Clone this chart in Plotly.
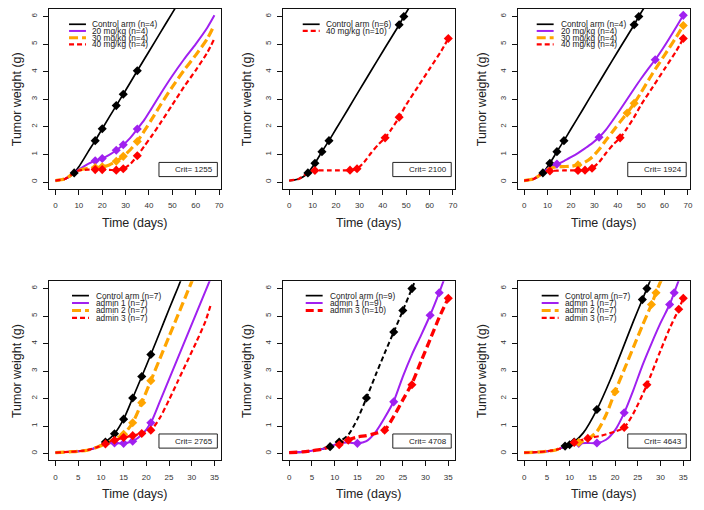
import plotly.graph_objects as go

# ---------------- DATA ----------------
# Panel 1 (top-left)
p1_ctrl_x = [0, 2, 4, 6, 8, 10, 12, 14, 17, 20, 26, 29, 35, 40, 45, 50, 53]
p1_ctrl_y = [0.05, 0.07, 0.11, 0.19, 0.33, 0.55, 0.82, 1.1, 1.5, 1.93, 2.77, 3.18, 4.03, 4.73, 5.43, 6.13, 6.55]
p1_d20_x = [0, 4, 8, 10, 12, 14, 17, 20, 23, 26, 29, 32, 35, 38, 41, 45, 50, 55, 60, 65, 68]
p1_d20_y = [0.05, 0.11, 0.33, 0.45, 0.56, 0.66, 0.77, 0.85, 0.98, 1.15, 1.35, 1.6, 1.92, 2.25, 2.65, 3.2, 3.85, 4.45, 5.0, 5.6, 6.04]
p1_d30_x = [0, 4, 8, 10, 12, 14, 17, 20, 23, 26, 29, 32, 35, 38, 41, 45, 50, 55, 60, 65, 68]
p1_d30_y = [0.05, 0.11, 0.33, 0.42, 0.47, 0.5, 0.52, 0.55, 0.62, 0.75, 0.93, 1.17, 1.47, 1.85, 2.25, 2.8, 3.45, 4.05, 4.6, 5.2, 5.7]
p1_d40_x = [0, 4, 8, 10, 12, 14, 17, 20, 23, 26, 29, 32, 35, 38, 41, 45, 50, 55, 60, 65, 68]
p1_d40_y = [0.05, 0.11, 0.33, 0.42, 0.44, 0.45, 0.45, 0.45, 0.44, 0.43, 0.48, 0.65, 0.95, 1.3, 1.65, 2.15, 2.8, 3.45, 4.05, 4.7, 5.2]
p1_ctrl_obs_x = [8, 17, 20, 26, 29, 35]
p1_ctrl_obs_y = [0.33, 1.5, 1.93, 2.77, 3.18, 4.03]
p1_d20_obs_x = [17, 20, 26, 29, 35]
p1_d20_obs_y = [0.77, 0.85, 1.15, 1.35, 1.92]
p1_d30_obs_x = [17, 20, 26, 29, 35]
p1_d30_obs_y = [0.52, 0.55, 0.75, 0.93, 1.47]
p1_d40_obs_x = [17, 20, 26, 29, 35]
p1_d40_obs_y = [0.45, 0.45, 0.43, 0.48, 0.95]

# Panel 2 (top-middle)
p2_ctrl_x = [0, 2, 4, 6, 8, 11, 14, 17, 20, 25, 30, 35, 40, 47, 49, 52]
p2_ctrl_y = [0.05, 0.07, 0.11, 0.19, 0.33, 0.68, 1.1, 1.5, 1.92, 2.62, 3.33, 4.03, 4.73, 5.7, 6.0, 6.42]
p2_d40_x = [0, 4, 8, 11, 14, 17, 20, 23, 26, 29, 32, 35, 38, 41, 44, 47, 50, 55, 60, 65, 68]
p2_d40_y = [0.05, 0.11, 0.33, 0.42, 0.42, 0.42, 0.42, 0.42, 0.43, 0.48, 0.72, 1.05, 1.35, 1.6, 1.95, 2.35, 2.8, 3.45, 4.1, 4.75, 5.2]
p2_ctrl_obs_x = [8, 11, 14, 17, 47, 49]
p2_ctrl_obs_y = [0.33, 0.68, 1.1, 1.5, 5.7, 6.0]
p2_d40_obs_x = [11, 26, 29, 41, 47, 68]
p2_d40_obs_y = [0.42, 0.43, 0.48, 1.6, 2.35, 5.2]

# Panel 3 (top-right)
p3_ctrl_x = [0, 2, 4, 6, 8, 11, 14, 17, 20, 25, 30, 35, 40, 47, 49, 52]
p3_ctrl_y = [0.05, 0.07, 0.11, 0.19, 0.33, 0.68, 1.1, 1.5, 1.92, 2.62, 3.33, 4.03, 4.73, 5.7, 6.0, 6.42]
p3_d20_x = [0, 4, 8, 11, 14, 17, 20, 23, 26, 29, 32, 35, 38, 41, 44, 47, 50, 53, 56, 59, 62, 65, 68]
p3_d20_y = [0.05, 0.11, 0.33, 0.55, 0.65, 0.76, 0.9, 1.05, 1.22, 1.4, 1.62, 1.9, 2.25, 2.62, 3.0, 3.38, 3.75, 4.1, 4.43, 4.8, 5.2, 5.62, 6.04]
p3_d30_x = [0, 4, 8, 11, 14, 17, 20, 23, 26, 29, 32, 35, 38, 41, 44, 47, 50, 55, 60, 65, 68]
p3_d30_y = [0.05, 0.11, 0.33, 0.5, 0.55, 0.56, 0.57, 0.62, 0.72, 0.9, 1.18, 1.52, 1.85, 2.18, 2.5, 2.85, 3.25, 3.95, 4.6, 5.25, 5.67]
p3_d40_x = [0, 4, 8, 11, 14, 17, 20, 23, 26, 29, 32, 35, 38, 41, 44, 47, 50, 55, 60, 65, 68]
p3_d40_y = [0.05, 0.11, 0.33, 0.4, 0.41, 0.42, 0.42, 0.42, 0.43, 0.5, 0.72, 1.05, 1.35, 1.6, 1.95, 2.35, 2.8, 3.45, 4.1, 4.75, 5.2]
p3_ctrl_obs_x = [8, 11, 14, 17, 47, 49]
p3_ctrl_obs_y = [0.33, 0.68, 1.1, 1.5, 5.7, 6.0]
p3_d20_obs_x = [14, 32, 56, 68]
p3_d20_obs_y = [0.65, 1.62, 4.43, 6.04]
p3_d30_obs_x = [23, 44, 47, 68]
p3_d30_obs_y = [0.62, 2.5, 2.85, 5.67]
p3_d40_obs_x = [11, 23, 26, 29, 41, 68]
p3_d40_obs_y = [0.4, 0.42, 0.43, 0.5, 1.6, 5.2]

# Panel 4 (bottom-left)
p4_ctrl_x = [0, 3, 5, 7, 9, 11, 13, 15, 17, 19, 21, 23, 25, 27, 29]
p4_ctrl_y = [0.03, 0.06, 0.08, 0.12, 0.22, 0.42, 0.72, 1.25, 2.02, 2.8, 3.6, 4.42, 5.25, 6.05, 6.9]
p4_a1_x = [0, 3, 5, 7, 9, 11, 13, 15, 17, 19, 21, 23, 25, 27, 29, 31, 33, 35]
p4_a1_y = [0.03, 0.06, 0.08, 0.12, 0.22, 0.35, 0.38, 0.37, 0.45, 0.68, 1.12, 1.9, 2.7, 3.5, 4.3, 5.1, 5.9, 6.7]
p4_a2_x = [0, 3, 5, 7, 9, 11, 13, 15, 17, 19, 21, 23, 25, 27, 29, 31]
p4_a2_y = [0.03, 0.06, 0.08, 0.12, 0.22, 0.35, 0.52, 0.7, 1.12, 1.85, 2.65, 3.45, 4.25, 5.05, 5.85, 6.65]
p4_a3_x = [0, 3, 5, 7, 9, 11, 13, 15, 17, 19, 21, 23, 25, 27, 29, 31, 33, 34.3]
p4_a3_y = [0.03, 0.06, 0.08, 0.12, 0.22, 0.35, 0.48, 0.58, 0.65, 0.73, 0.85, 1.3, 1.95, 2.65, 3.35, 4.05, 4.8, 5.47]
p4_ctrl_obs_x = [11, 13, 15, 17, 19, 21]
p4_ctrl_obs_y = [0.42, 0.72, 1.25, 2.02, 2.8, 3.6]
p4_a1_obs_x = [13, 15, 17, 21]
p4_a1_obs_y = [0.38, 0.37, 0.45, 1.12]
p4_a2_obs_x = [15, 17, 19, 21]
p4_a2_obs_y = [0.7, 1.12, 1.85, 2.65]
p4_a3_obs_x = [11, 13, 15, 17, 19, 21]
p4_a3_obs_y = [0.35, 0.48, 0.58, 0.65, 0.73, 0.85]

# Panel 5 (bottom-middle)
p5_ctrl_x = [0, 3, 5, 7, 9, 11, 13, 15, 17, 19, 21, 23, 25, 27, 28]
p5_ctrl_y = [0.03, 0.06, 0.1, 0.15, 0.25, 0.42, 0.68, 1.25, 2.02, 2.85, 3.65, 4.42, 5.2, 6.0, 6.4]
p5_a1_x = [0, 3, 5, 7, 9, 11, 13, 15, 17, 19, 21, 23, 25, 27, 29, 31, 33, 34]
p5_a1_y = [0.03, 0.06, 0.1, 0.15, 0.25, 0.38, 0.4, 0.37, 0.45, 0.78, 1.3, 1.9, 2.8, 3.6, 4.3, 5.03, 5.85, 6.3]
p5_a3_x = [0, 3, 5, 7, 9, 11, 13, 15, 17, 19, 21, 23, 25, 27, 29, 31, 33, 35]
p5_a3_y = [0.03, 0.06, 0.1, 0.15, 0.25, 0.35, 0.5, 0.6, 0.65, 0.73, 0.85, 1.35, 1.95, 2.55, 3.35, 4.15, 4.95, 5.65]
p5_ctrl_obs_x = [9, 11, 17, 23, 25, 27]
p5_ctrl_obs_y = [0.25, 0.42, 2.02, 4.42, 5.2, 6.0]
p5_a1_obs_x = [15, 23, 31, 33]
p5_a1_obs_y = [0.37, 1.88, 5.03, 5.85]
p5_a3_obs_x = [11, 13, 21, 27, 35]
p5_a3_obs_y = [0.32, 0.48, 0.85, 2.5, 5.65]

# Panel 6 (bottom-right)
p6_ctrl_x = [0, 3, 5, 7, 9, 10, 11, 13, 16, 19, 22, 24, 26, 27, 28]
p6_ctrl_y = [0.03, 0.05, 0.08, 0.13, 0.25, 0.32, 0.42, 0.75, 1.6, 2.7, 3.95, 4.8, 5.6, 6.0, 6.4]
p6_a1_x = [0, 3, 5, 7, 9, 12, 14, 16, 18, 20, 22, 24, 26, 28, 30, 32, 33, 34]
p6_a1_y = [0.03, 0.05, 0.08, 0.13, 0.25, 0.37, 0.38, 0.38, 0.5, 0.85, 1.48, 2.3, 3.2, 4.0, 4.75, 5.42, 5.85, 6.3]
p6_a2_x = [0, 3, 5, 7, 9, 12, 14, 16, 18, 20, 22, 24, 26, 28, 29, 30, 31]
p6_a2_y = [0.03, 0.05, 0.08, 0.13, 0.25, 0.4, 0.52, 0.8, 1.4, 2.25, 3.05, 3.85, 4.65, 5.42, 5.85, 6.25, 6.6]
p6_a3_x = [0, 3, 5, 7, 9, 11, 14, 17, 20, 22, 24, 27, 30, 32, 34, 35]
p6_a3_y = [0.03, 0.05, 0.08, 0.13, 0.25, 0.4, 0.55, 0.65, 0.8, 0.95, 1.45, 2.5, 3.75, 4.55, 5.25, 5.65]
p6_ctrl_obs_x = [9, 10, 11, 16, 26, 27]
p6_ctrl_obs_y = [0.27, 0.32, 0.42, 1.6, 5.6, 6.0]
p6_a1_obs_x = [12, 16, 22, 32, 33]
p6_a1_obs_y = [0.37, 0.38, 1.48, 5.42, 5.85]
p6_a2_obs_x = [12, 20, 28, 29]
p6_a2_obs_y = [0.4, 2.25, 5.42, 5.85]
p6_a3_obs_x = [11, 14, 22, 27, 34, 35]
p6_a3_obs_y = [0.4, 0.55, 0.95, 2.5, 5.25, 5.65]

# Legend labels and criteria
legend_p1 = ["Control arm (n=4)", "20 mg/kg (n=4)", "30 mg/kg (n=4)", "40 mg/kg (n=4)"]
legend_p2 = ["Control arm (n=6)", "40 mg/kg (n=10)"]
legend_p3 = ["Control arm (n=4)", "20 mg/kg (n=4)", "30 mg/kg (n=4)", "40 mg/kg (n=4)"]
legend_p4 = ["Control arm (n=7)", "admin 1 (n=7)", "admin 2 (n=7)", "admin 3 (n=7)"]
legend_p5 = ["Control arm (n=9)", "admin 1 (n=9)", "admin 3 (n=10)"]
legend_p6 = ["Control arm (n=7)", "admin 1 (n=7)", "admin 2 (n=7)", "admin 3 (n=7)"]
crit_values = [1255, 2100, 1924, 2765, 4708, 4643]

x_ticks_top = [0, 10, 20, 30, 40, 50, 60, 70]
x_ticks_bottom = [0, 5, 10, 15, 20, 25, 30, 35]
y_ticks = [0, 1, 2, 3, 4, 5, 6]

# ---------------- STYLES ----------------
FONT = "Liberation Sans, Arial, sans-serif"
BLACK = "#000000"
PURPLE = "#A020F0"
ORANGE = "#FFA500"
RED = "#FF0000"

STY = {
    "ctrl": dict(color=BLACK, width=1.7, dash="solid"),
    "ctrl_d": dict(color=BLACK, width=2, dash="5px,3px"),
    "pur": dict(color=PURPLE, width=2, dash="solid"),
    "ora": dict(color=ORANGE, width=3.2, dash="9px,4px"),
    "red": dict(color=RED, width=2.2, dash="5px,3px"),
    "red_t": dict(color=RED, width=3.3, dash="8px,4px"),
}

# The page body adds an 8px offset; the figure is sized so that the
# whole page equals the 704x510 window.
OFF = 8
W, H = 704 - OFF, 510 - OFF
# panel boxes in window pixels
col_px = [(49.3, 221.7), (284.0, 456.6), (520.0, 692.6)]
row_px = [(8.0, 188.0), (280.7, 460.0)]


def px_x(p):
    return (p - OFF) / W


def px_y(p):
    return 1 - (p - OFF) / H


panels = [
    dict(row=0, col=0, legend=legend_p1, crit=crit_values[0], xt=x_ticks_top, xr=[-2.72, 70.72],
         series=[(p1_ctrl_x, p1_ctrl_y, p1_ctrl_obs_x, p1_ctrl_obs_y, "ctrl"),
                 (p1_d20_x, p1_d20_y, p1_d20_obs_x, p1_d20_obs_y, "pur"),
                 (p1_d30_x, p1_d30_y, p1_d30_obs_x, p1_d30_obs_y, "ora"),
                 (p1_d40_x, p1_d40_y, p1_d40_obs_x, p1_d40_obs_y, "red")],
         leg_styles=["ctrl", "pur", "ora", "red"]),
    dict(row=0, col=1, legend=legend_p2, crit=crit_values[1], xt=x_ticks_top, xr=[-2.72, 70.72],
         series=[(p2_ctrl_x, p2_ctrl_y, p2_ctrl_obs_x, p2_ctrl_obs_y, "ctrl"),
                 (p2_d40_x, p2_d40_y, p2_d40_obs_x, p2_d40_obs_y, "red")],
         leg_styles=["ctrl", "red"]),
    dict(row=0, col=2, legend=legend_p3, crit=crit_values[2], xt=x_ticks_top, xr=[-2.72, 70.72],
         series=[(p3_ctrl_x, p3_ctrl_y, p3_ctrl_obs_x, p3_ctrl_obs_y, "ctrl"),
                 (p3_d20_x, p3_d20_y, p3_d20_obs_x, p3_d20_obs_y, "pur"),
                 (p3_d30_x, p3_d30_y, p3_d30_obs_x, p3_d30_obs_y, "ora"),
                 (p3_d40_x, p3_d40_y, p3_d40_obs_x, p3_d40_obs_y, "red")],
         leg_styles=["ctrl", "pur", "ora", "red"]),
    dict(row=1, col=0, legend=legend_p4, crit=crit_values[3], xt=x_ticks_bottom, xr=[-1.4, 36.4],
         series=[(p4_ctrl_x, p4_ctrl_y, p4_ctrl_obs_x, p4_ctrl_obs_y, "ctrl"),
                 (p4_a1_x, p4_a1_y, p4_a1_obs_x, p4_a1_obs_y, "pur"),
                 (p4_a2_x, p4_a2_y, p4_a2_obs_x, p4_a2_obs_y, "ora"),
                 (p4_a3_x, p4_a3_y, p4_a3_obs_x, p4_a3_obs_y, "red")],
         leg_styles=["ctrl", "pur", "ora", "red"]),
    dict(row=1, col=1, legend=legend_p5, crit=crit_values[4], xt=x_ticks_bottom, xr=[-1.4, 36.4],
         series=[(p5_ctrl_x, p5_ctrl_y, p5_ctrl_obs_x, p5_ctrl_obs_y, "ctrl_d"),
                 (p5_a1_x, p5_a1_y, p5_a1_obs_x, p5_a1_obs_y, "pur"),
                 (p5_a3_x, p5_a3_y, p5_a3_obs_x, p5_a3_obs_y, "red_t")],
         leg_styles=["ctrl", "pur", "red_t"]),
    dict(row=1, col=2, legend=legend_p6, crit=crit_values[5], xt=x_ticks_bottom, xr=[-1.4, 36.4],
         series=[(p6_ctrl_x, p6_ctrl_y, p6_ctrl_obs_x, p6_ctrl_obs_y, "ctrl"),
                 (p6_a1_x, p6_a1_y, p6_a1_obs_x, p6_a1_obs_y, "pur"),
                 (p6_a2_x, p6_a2_y, p6_a2_obs_x, p6_a2_obs_y, "ora"),
                 (p6_a3_x, p6_a3_y, p6_a3_obs_x, p6_a3_obs_y, "red")],
         leg_styles=["ctrl", "pur", "ora", "red"]),
]

fig = go.Figure()
layout = dict(
    width=W, height=H, margin=dict(l=0, r=0, t=0, b=0),
    paper_bgcolor="white", plot_bgcolor="white", showlegend=False,
    font=dict(family=FONT, color="#222"),
)
shapes = []
annotations = []

for i, p in enumerate(panels):
    k = "" if i == 0 else str(i + 1)
    xa, ya = "x" + k, "y" + k
    x0p, x1p = col_px[p["col"]]
    y0p, y1p = row_px[p["row"]]
    xdom = [px_x(x0p), px_x(x1p)]
    ydom = [px_y(y1p), px_y(y0p)]
    axis_common = dict(showgrid=False, zeroline=False, showline=True, mirror=True,
                       linecolor="#111", linewidth=1, ticks="outside", ticklen=5,
                       tickcolor="#111", tickwidth=1,
                       tickfont=dict(family=FONT, size=8, color="#333"))
    layout["xaxis" + k] = dict(axis_common, domain=xdom, range=p["xr"], anchor=ya,
                               tickmode="array", tickvals=p["xt"], ticklabelstandoff=4)
    layout["yaxis" + k] = dict(axis_common, domain=ydom, range=[-0.24, 6.27], anchor=xa,
                               tickmode="array", tickvals=y_ticks, tickangle=-90,
                               ticklabelstandoff=3)

    for (cx, cy, ox, oy, st) in p["series"]:
        s = STY[st]
        fig.add_trace(go.Scatter(x=cx, y=cy, mode="lines", xaxis=xa, yaxis=ya,
                                 line=dict(color=s["color"], width=s["width"], dash=s["dash"],
                                           shape="spline", smoothing=0.7),
                                 hoverinfo="skip"))
    for (cx, cy, ox, oy, st) in p["series"]:
        s = STY[st]
        fig.add_trace(go.Scatter(x=ox, y=oy, mode="markers", xaxis=xa, yaxis=ya,
                                 marker=dict(symbol="diamond", size=7, color=s["color"],
                                             line=dict(width=0)),
                                 cliponaxis=True))

    # legend (drawn manually, compact like base-R legend)
    xr_ref, yr_ref = xa + " domain", ya + " domain"
    ph = y1p - y0p
    pw = x1p - x0p
    if p["row"] == 0:
        lx0 = 20 if p["col"] != 2 else 19
        lrow0, lstep = 15.3, 6.7
        ltext = 41.5
    else:
        lx0 = 23 if p["col"] != 2 else 24
        lrow0, lstep = 14.5, 7.4
        ltext = 45
    for j, (lab, st) in enumerate(zip(p["legend"], p["leg_styles"])):
        s = STY[st]
        yy = 1 - (lrow0 + j * lstep) / ph
        shapes.append(dict(type="line", xref=xr_ref, yref=yr_ref,
                           x0=lx0 / pw, x1=(lx0 + 17) / pw, y0=yy, y1=yy,
                           line=dict(color=s["color"], width=min(s["width"], 3),
                                     dash=s["dash"])))
        annotations.append(dict(text=lab, xref=xr_ref, yref=yr_ref, x=ltext / pw, y=yy,
                                xanchor="left", yanchor="middle", showarrow=False,
                                font=dict(family=FONT, size=8.3, color="#222")))
    # crit box
    shapes.append(dict(type="rect", xref=xr_ref, yref=yr_ref, x0=0.64, x1=0.98,
                       y0=0.067, y1=0.146, line=dict(color="#222", width=1),
                       fillcolor="white", layer="above"))
    annotations.append(dict(text="Crit= %d" % p["crit"], xref=xr_ref, yref=yr_ref,
                            x=0.968, y=0.106, xanchor="right", yanchor="middle",
                            showarrow=False, font=dict(family=FONT, size=8, color="#222")))
    # axis titles
    annotations.append(dict(text="Time (days)", xref="paper", yref="paper",
                            x=px_x((x0p + x1p) / 2), y=px_y(y1p + 34),
                            xanchor="center", yanchor="middle", showarrow=False,
                            font=dict(family=FONT, size=12.5, color="#222")))
    ytitle_x = max(x0p - 36.5, OFF + 8.5)
    annotations.append(dict(text="Tumor weight (g)", xref="paper", yref="paper",
                            x=px_x(ytitle_x), y=px_y((y0p + y1p) / 2), textangle=-90,
                            xanchor="center", yanchor="middle", showarrow=False,
                            font=dict(family=FONT, size=12.5, color="#222")))

layout["shapes"] = shapes
layout["annotations"] = annotations
fig.update_layout(**layout)
fig.write_html("out.html")
